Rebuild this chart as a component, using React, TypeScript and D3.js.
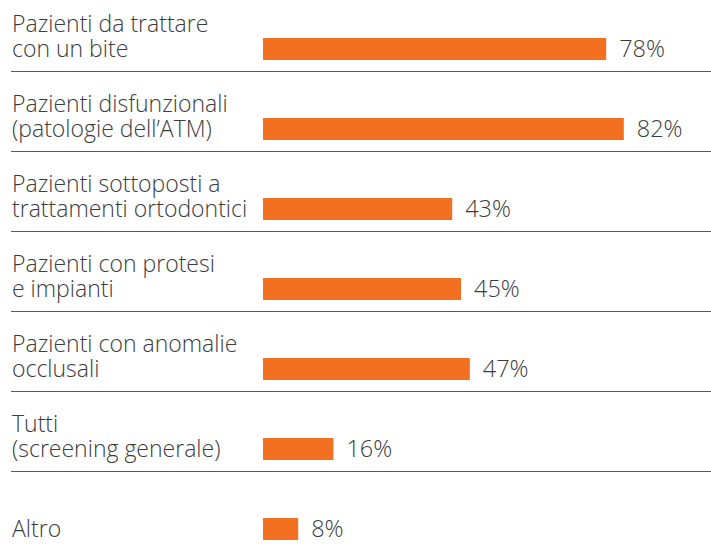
import React from "react";
import * as d3 from "d3";

const categories: string[][] = [
  ["Pazienti da trattare", "con un bite"],
  ["Pazienti disfunzionali", "(patologie dell’ATM)"],
  ["Pazienti sottoposti a", "trattamenti ortodontici"],
  ["Pazienti con protesi", "e impianti"],
  ["Pazienti con anomalie", "occlusali"],
  ["Tutti", "(screening generale)"],
  ["", "Altro"],
];
const values: number[] = [78, 82, 43, 45, 47, 16, 8];
const valueLabels: string[] = ["78%", "82%", "43%", "45%", "47%", "16%", "8%"];

const W = 711;
const H = 548;
const ORANGE = "#F37021";
const TEXT = "#3c3c3c";
const FONT = "'Open Sans', sans-serif";

export default function App() {
  const x = d3.scaleLinear().domain([0, 100]).range([263, 263 + 440]);
  const row = d3
    .scaleBand<number>()
    .domain(d3.range(values.length))
    .range([0, 80 * values.length])
    .paddingInner(0)
    .paddingOuter(0);

  return (
    <svg
      width={W}
      height={H}
      style={{ position: "fixed", left: 0, top: 0, background: "#fff" }}
      fontFamily={FONT}
    >
      {values.map((v, i) => {
        const top = row(i)!;
        return (
          <g key={i}>
            <text x={12} y={top + 31.5} fontSize={23} fontWeight={300} fill={TEXT}>
              {categories[i][0] && <tspan x={12} y={top + 31.5}>{categories[i][0]}</tspan>}
              <tspan x={12} y={top + 56.5}>{categories[i][1]}</tspan>
            </text>
            <rect x={x(0)} y={top + 38} width={x(v) - x(0)} height={22} fill={ORANGE} />
            <text x={x(v) + 13} y={top + 57} fontSize={23.5} fontWeight={300} fill={TEXT}>
              {valueLabels[i]}
            </text>
            {i < values.length - 1 && (
              <line
                x1={11}
                x2={W}
                y1={top + 71.5}
                y2={top + 71.5}
                stroke="#5a5a5a"
                strokeWidth={1.2}
              />
            )}
          </g>
        );
      })}
    </svg>
  );
}
